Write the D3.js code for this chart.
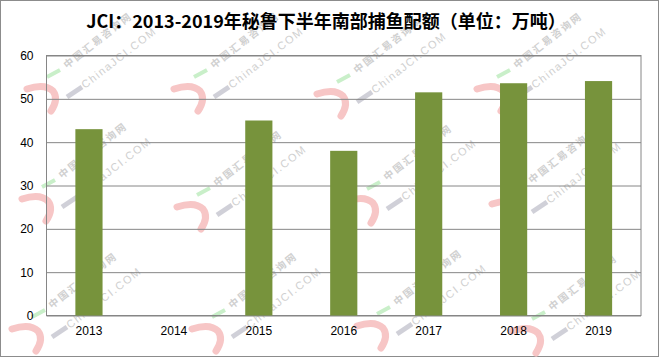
<!DOCTYPE html>
<html>
<head>
<meta charset="utf-8">
<script src="https://cdn.jsdelivr.net/npm/d3@7"></script>
<style>
  body { margin: 0; background: #fff; }
  svg { display: block; }
</style>
</head>
<body>
<div id="chart"></div>
<script>
// Chart data (万吨), 2014 had no southern second-season quota
const years = ["2013", "2014", "2015", "2016", "2017", "2018", "2019"];
const quota = [43, 0, 45, 38, 51.5, 53.6, 54.1];
const yTicks = [0, 10, 20, 30, 40, 50, 60];
const titleText = "JCI：2013-2019年秘鲁下半年南部捕鱼配额（单位：万吨）";

// watermark tiles (logo anchor points), decoration only
const markX = [45, 192, 335, 495, 40, 195, 365, 510, 30, 210, 375, 530];
const markY = [95, 95, 100, 95, 205, 213, 207, 210, 335, 335, 332, 337];

const width = 660;
const height = 358;
const plot = { left: 46.5, right: 641, top: 55.5, bottom: 315.5 };

const svg = d3.select("#chart").append("svg")
    .attr("width", width)
    .attr("height", height);

// background + outer border
svg.append("rect")
    .attr("x", 0.5).attr("y", 0.5)
    .attr("width", width - 2).attr("height", height - 2)
    .attr("fill", "#fff")
    .attr("stroke", "#8c8c8c");

// Scales
const x = d3.scaleBand()
    .domain(years)
    .range([plot.left, plot.right])
    .paddingInner(0.68)
    .paddingOuter(0.34);

const y = d3.scaleLinear()
    .domain([0, 60])
    .range([plot.bottom, plot.top]);

// Watermark (light, behind everything else)
const wm = svg.append("g").attr("class", "watermark");
markX.forEach((mx, i) => {
    const g = wm.append("g").attr("transform", `translate(${mx},${markY[i]})`);
    g.append("path")
        .attr("d", "M-18,-6 Q0,-12 8,-4 Q14,4 6,16")
        .attr("fill", "none")
        .attr("stroke", "#f7c6c6")
        .attr("stroke-width", 7)
        .attr("stroke-linecap", "round");
    g.append("path")
        .attr("d", "M2,-18 L15,-25")
        .attr("stroke", "#c9efc9")
        .attr("stroke-width", 4);
    g.append("path")
        .attr("d", "M22,2 L37,-8")
        .attr("stroke", "#d0d0d8")
        .attr("stroke-width", 5);
    g.append("text")
        .attr("transform", "translate(22,-26) rotate(-38)")
        .style("font-family", "'Noto Sans CJK SC', sans-serif")
        .style("font-size", "10px")
        .style("font-weight", 700)
        .style("letter-spacing", "2px")
        .style("fill", "#d0d0d0")
        .text("中国汇易咨询网");
    g.append("text")
        .attr("transform", "translate(40,-6) rotate(-38)")
        .style("font-family", "'Liberation Sans', Arial, sans-serif")
        .style("font-size", "11px")
        .style("letter-spacing", "1.5px")
        .style("fill", "#d0d0d0")
        .text("ChinaJCI.COM");
});

// Title
svg.append("text")
    .attr("x", 326)
    .attr("y", 28)
    .attr("text-anchor", "middle")
    .style("font-family", "'Noto Sans CJK SC', sans-serif")
    .style("font-size", "18px")
    .style("font-weight", 700)
    .style("fill", "#000")
    .text(titleText);

// Gridlines + y axis labels
const yAxis = d3.axisLeft(y)
    .tickValues(yTicks)
    .tickSize(-(plot.right - plot.left))
    .tickPadding(13);

svg.append("g")
    .attr("transform", `translate(${plot.left},0)`)
    .call(yAxis)
    .call(g => g.select(".domain").remove())
    .call(g => g.selectAll(".tick line").attr("stroke", "#868686"))
    .call(g => g.selectAll(".tick text")
        .style("font-family", "'Liberation Sans', Arial, sans-serif")
        .style("font-size", "12px")
        .style("fill", "#000"));

// plot area frame
svg.append("rect")
    .attr("x", plot.left).attr("y", y(60))
    .attr("width", plot.right - plot.left)
    .attr("height", y(0) - y(60))
    .attr("fill", "none")
    .attr("stroke", "#868686");

// Bars
svg.selectAll(".bar")
    .data(years.map((yr, i) => ({ year: yr, value: quota[i] })))
    .enter().append("rect")
    .attr("class", "bar")
    .attr("x", d => x(d.year))
    .attr("y", d => y(d.value))
    .attr("width", x.bandwidth())
    .attr("height", d => y(0) - y(d.value))
    .attr("fill", "#77933c");

// x axis labels
const xAxis = d3.axisBottom(x).tickSize(0).tickPadding(11);
svg.append("g")
    .attr("transform", `translate(0,${plot.bottom})`)
    .call(xAxis)
    .call(g => g.select(".domain").remove())
    .call(g => g.selectAll(".tick text")
        .style("font-family", "'Liberation Sans', Arial, sans-serif")
        .style("font-size", "12px")
        .style("fill", "#000"));
</script>
</body>
</html>
